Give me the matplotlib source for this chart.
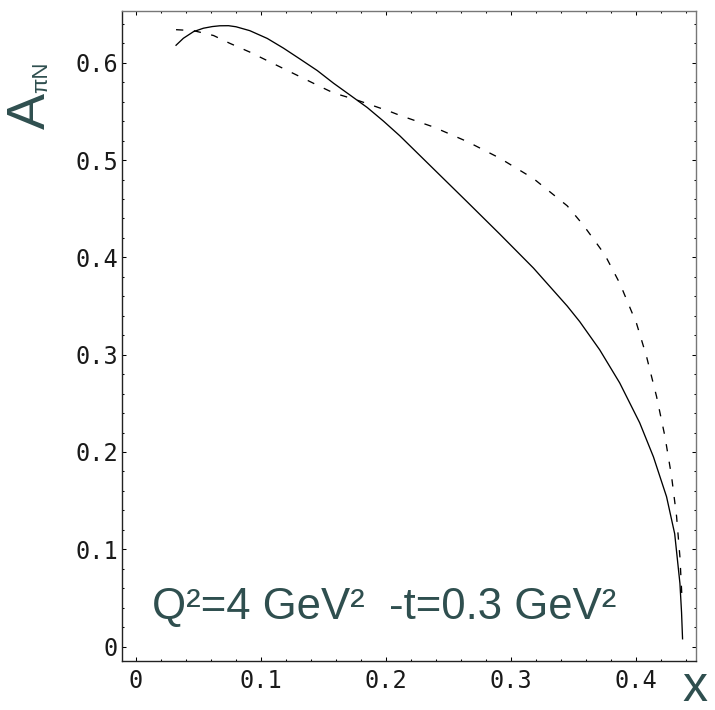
import matplotlib
matplotlib.use("Agg")
import matplotlib.pyplot as plt
from matplotlib.ticker import MultipleLocator, FixedLocator, FixedFormatter

# ---- data ----
solid_x = [0.032, 0.0379, 0.046, 0.0539, 0.061, 0.067, 0.074, 0.080, 0.091, 0.105,
           0.118, 0.131, 0.145, 0.158, 0.171, 0.185, 0.198, 0.211, 0.238, 0.265,
           0.291, 0.318, 0.345, 0.355, 0.371, 0.387, 0.403, 0.414, 0.4245, 0.431,
           0.4352, 0.4365, 0.4373]
solid_y = [0.618, 0.6252, 0.632, 0.6355, 0.6372, 0.638, 0.6381, 0.637, 0.633, 0.625,
           0.615, 0.604, 0.592, 0.579, 0.567, 0.554, 0.540, 0.525, 0.491, 0.457,
           0.424, 0.389, 0.350, 0.334, 0.305, 0.271, 0.230, 0.195, 0.154, 0.116,
           0.065, 0.035, 0.008]

dashed_x = [0.032, 0.046, 0.062, 0.075, 0.091, 0.118, 0.145, 0.158, 0.176, 0.203,
            0.211, 0.238, 0.265, 0.291, 0.318, 0.345, 0.358, 0.3685, 0.3752, 0.3872,
            0.4005, 0.4085, 0.4165, 0.4232, 0.4285, 0.4325, 0.4352, 0.4368, 0.4372]
dashed_y = [0.634, 0.633, 0.628, 0.620, 0.611, 0.594, 0.577, 0.569, 0.562, 0.550,
            0.546, 0.534, 0.519, 0.502, 0.481, 0.453, 0.433, 0.4145, 0.4025, 0.373,
            0.332, 0.298, 0.257, 0.216, 0.175, 0.134, 0.092, 0.051, 0.045]

x_ticks = [0.0, 0.1, 0.2, 0.3, 0.4]
x_ticklabels = ["0", "0.1", "0.2", "0.3", "0.4"]
y_ticks = [0.0, 0.1, 0.2, 0.3, 0.4, 0.5, 0.6]
y_ticklabels = ["0", "0.1", "0.2", "0.3", "0.4", "0.5", "0.6"]

annotation = "Q\u00b2=4 GeV\u00b2  -t=0.3 GeV\u00b2"
ylabel_main = "A"
ylabel_sub = "\u03c0N"
xlabel = "x"
TEAL = "#2F4F4F"

W, H = 715, 710
fig = plt.figure(figsize=(W / 100, H / 100), dpi=100)
ax = fig.add_axes([122.3 / W, 1 - 660.7 / H, (696.3 - 122.3) / W, (660.7 - 11) / H])

ax.plot(solid_x, solid_y, color="black", lw=0.95, solid_joinstyle="round")
ax.plot(dashed_x, dashed_y, color="black", lw=0.95, linestyle=(0, (5.5, 8)))

ax.set_xlim(-0.011, 0.4483)
ax.set_ylim(-0.0145, 0.6532)

ax.xaxis.set_major_locator(FixedLocator(x_ticks))
ax.xaxis.set_major_formatter(FixedFormatter(x_ticklabels))
ax.yaxis.set_major_locator(FixedLocator(y_ticks))
ax.yaxis.set_major_formatter(FixedFormatter(y_ticklabels))
ax.xaxis.set_minor_locator(MultipleLocator(0.02))
ax.yaxis.set_minor_locator(MultipleLocator(0.02))

ax.tick_params(which="both", direction="in", top=True, right=True, width=0.75, color="black")
ax.tick_params(which="major", length=3.0)
ax.tick_params(which="minor", length=1.7)
ax.tick_params(axis="x", which="major", pad=6)
ax.tick_params(axis="y", which="major", pad=3)
for lab in ax.get_xticklabels() + ax.get_yticklabels():
    lab.set_family("DejaVu Sans Mono")
    lab.set_fontsize(17)
    lab.set_color("#1a1a1a")

for side in ["left", "bottom"]:
    ax.spines[side].set_color("#222222")
    ax.spines[side].set_linewidth(1.0)
for side in ["top", "right"]:
    ax.spines[side].set_color("#777777")
    ax.spines[side].set_linewidth(1.0)

# annotation inside axes
ax.text(0.0128, 0.0283, annotation, family="Liberation Sans", fontsize=31.5,
        color=TEAL, ha="left", va="baseline")

# y label: A with subscript (rotated, reading bottom to top)
fig.text(45 / W, 1 - 129 / H, ylabel_main, family="Liberation Sans", fontsize=39,
         color=TEAL, rotation=90, ha="left", va="baseline", rotation_mode="anchor")
fig.text(47 / W, 1 - 93 / H, ylabel_sub, family="Liberation Sans", fontsize=16,
         color=TEAL, rotation=90, ha="left", va="baseline", rotation_mode="anchor")

# x label
fig.text(695 / W, 1 - 701 / H, xlabel, family="Liberation Sans", fontsize=36,
         color=TEAL, ha="center", va="baseline")

fig.savefig("out.png", dpi=100)
